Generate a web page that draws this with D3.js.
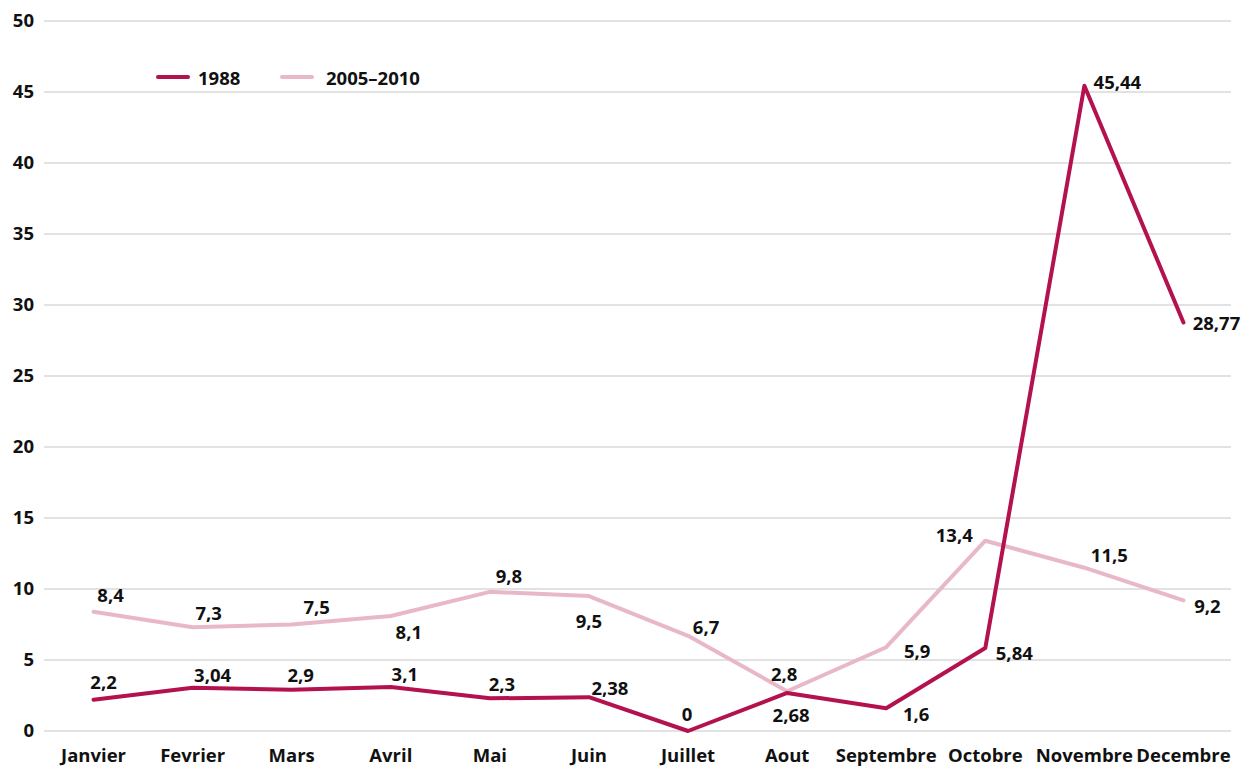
<!DOCTYPE html>
<html><head><meta charset="utf-8">
<script src="https://cdn.jsdelivr.net/npm/d3@7"></script>
<style>
body{margin:0;background:#fff;}
svg text{font-family:"Open Sans","Noto Sans",sans-serif;font-weight:700;fill:#111;}
</style></head>
<body><svg id="c" width="1244" height="769"></svg>
<script>
const months = ["Janvier","Fevrier","Mars","Avril","Mai","Juin","Juillet","Aout","Septembre","Octobre","Novembre","Decembre"];
const s1988 = [2.2,3.04,2.9,3.1,2.3,2.38,0,2.68,1.6,5.84,45.44,28.77];
const s2005 = [8.4,7.3,7.5,8.1,9.8,9.5,6.7,2.8,5.9,13.4,11.5,9.2];
const yTicks = [0,5,10,15,20,25,30,35,40,45,50];
const seriesNames = ["1988","2005–2010"];
// label placement offsets (layout only)
const off1988 = [[10,-18],[20,-13],[9,-15],[14,-13],[12,-15],[21,-10],[-1,-18],[4,22],[30,5],[29,4],[33,-4],[33,0]];
const off2005 = [[17,-17],[16,-15],[25,-18],[18,16],[19,-16],[0,24],[18,-9],[-3,-18],[31,3],[-31,-6],[25,-13],[24,5]];

const FS = "18.5px";
const svg = d3.select("#c");
const x = d3.scaleBand().domain(months).range([44,1233]);
const y = d3.scaleLinear().domain([0,50]).range([731,21]);

svg.append("g").selectAll("line").data(yTicks).join("line")
  .attr("x1",44).attr("x2",1231).attr("y1",d=>y(d)).attr("y2",d=>y(d))
  .attr("stroke","#d9d9d9").attr("stroke-width",1.5);

const yAxis = svg.append("g").attr("transform","translate(44,0)")
  .call(d3.axisLeft(y).tickValues(yTicks).tickSize(0).tickPadding(10));
yAxis.select(".domain").remove();
yAxis.selectAll("text").style("font-size",FS).attr("fill","#111");

const xAxis = svg.append("g").attr("transform","translate(0,731)")
  .call(d3.axisBottom(x).tickSize(0).tickPadding(18));
xAxis.select(".domain").remove();
xAxis.selectAll("text").style("font-size",FS).attr("fill","#111");

const cx = d => x(d)+x.bandwidth()/2;
const line = d3.line().x((d,i)=>cx(months[i])).y(d=>y(d));
const colors = ["#b3124f","#e8b8c9"];

svg.append("path").datum(s2005).attr("d",line).attr("fill","none")
  .attr("stroke",colors[1]).attr("stroke-width",4).attr("stroke-linejoin","round").attr("stroke-linecap","round");
svg.append("path").datum(s1988).attr("d",line).attr("fill","none")
  .attr("stroke",colors[0]).attr("stroke-width",4).attr("stroke-linejoin","round").attr("stroke-linecap","round");

const fmt = v => String(v).replace(".",",");
function labels(data, offs){
  svg.append("g").selectAll("text").data(data).join("text")
    .attr("x",(d,i)=>cx(months[i])+offs[i][0])
    .attr("y",(d,i)=>y(d)+offs[i][1])
    .attr("text-anchor","middle").attr("dominant-baseline","central")
    .style("font-size",FS).text(fmt);
}
labels(s2005, off2005);
labels(s1988, off1988);

// legend
const lg = svg.append("g");
const lx = [158,282], tx = [198,326];
seriesNames.forEach((n,i)=>{
  lg.append("line").attr("x1",lx[i]).attr("x2",lx[i]+30).attr("y1",77).attr("y2",77)
    .attr("stroke",colors[i]).attr("stroke-width",4).attr("stroke-linecap","round");
  lg.append("text").attr("x",tx[i]).attr("y",77).attr("dominant-baseline","central")
    .style("font-size",FS).text(n);
});
</script></body></html>
